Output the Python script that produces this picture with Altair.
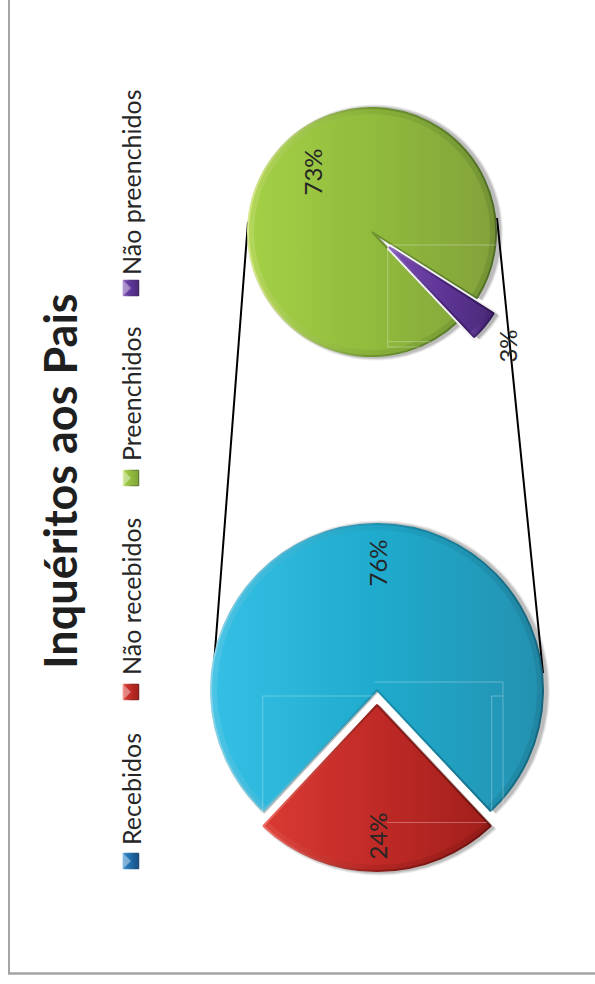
import math
import altair as alt
import pandas as pd

# Survey figures for each pie
first_labels = ["Recebidos", "Não recebidos"]
first_values = [76, 24]
second_labels = ["Preenchidos", "Não preenchidos"]
second_values = [73, 3]

TITLE = "Inquéritos aos Pais"
FONT = "Lato"
W, H = 595, 984


def gradient(*colors):
    n = len(colors) - 1
    return {
        "gradient": "linear", "x1": 0, "x2": 1, "y1": 0, "y2": 0,
        "stops": [{"offset": i / n, "color": c} for i, c in enumerate(colors)],
    }


FILLS = {
    "Recebidos": gradient("#35bfe5", "#1fabcd", "#2491b0"),
    "Não recebidos": gradient("#d93a33", "#c02a26", "#a01f1c"),
    "Preenchidos": gradient("#a4d047", "#90bb3c", "#83a23b"),
    "Não preenchidos": gradient("#7a4bb0", "#5f3597", "#4a2a78"),
}
EDGES = {
    "Recebidos": gradient("#86d3e8", "#1b8fae", "#15657c"),
    "Não recebidos": gradient("#ee6a62", "#8f1b18", "#6e1310"),
    "Preenchidos": gradient("#d8e88c", "#6f9530", "#4f6d25"),
    "Não preenchidos": gradient("#8f66c4", "#472378", "#2f1755"),
}
KEY_FILLS = {
    **FILLS,
    "Recebidos": gradient("#2f86c8", "#1f6aa8", "#164f80"),
}
KEY_EDGES = {
    **EDGES,
    "Recebidos": gradient("#4a9bd6", "#1a5c92", "#123f66"),
}


def slices(labels, values, start):
    total = sum(values)
    rows, a = [], start
    for lab, v in zip(labels, values):
        b = a + v / total * 360
        rows.append({"label": lab, "value": v, "a0": a, "a1": b, "pct": f"{v}%"})
        a = b
    return pd.DataFrame(rows)


ANGLE = alt.Scale(domain=[0, 720], range=[0, 4 * math.pi])


def wedge(row, cx, cy, r, halo=0):
    data = pd.DataFrame([row])
    enc = dict(
        theta=alt.Theta("a0:Q", scale=ANGLE),
        theta2="a1:Q",
    )
    layers = []
    # White margin separating an exploded slice from its neighbour
    if halo:
        layers.append(
            alt.Chart(data).mark_arc(
                radius=r, fill="#ffffff", stroke="#f2f2f2", strokeWidth=halo,
            ).encode(x=alt.value(cx), y=alt.value(cy), **enc)
        )
    # Soft shadow to the right
    for grow, op in [(3, 0.07), (2, 0.09), (1, 0.12)]:
        layers.append(
            alt.Chart(data).mark_arc(radius=r + grow, fill="#000", opacity=op).encode(
                x=alt.value(cx + 3), y=alt.value(cy + 0.5), **enc
            )
        )
    layers.append(
        alt.Chart(data).mark_arc(
            radius=r - 1, fill=FILLS[row["label"]], stroke=EDGES[row["label"]],
            strokeWidth=2, strokeJoin="bevel",
        ).encode(x=alt.value(cx), y=alt.value(cy), **enc)
    )
    # Rim of the bevel along the outer curve
    layers.append(
        alt.Chart(data).mark_arc(
            radius=r - 1, radius2=r - 7, fill=EDGES[row["label"]], opacity=0.28,
        ).encode(x=alt.value(cx), y=alt.value(cy), **enc)
    )
    return layers


def rule(x0, y0, x1, y1, color, width=1.0, opacity=1.0):
    return alt.Chart(pd.DataFrame({"k": [0]})).mark_rule(
        color=color, strokeWidth=width, opacity=opacity
    ).encode(x=alt.value(x0), x2=alt.value(x1), y=alt.value(y0), y2=alt.value(y1))


def label(text, x, y, size, weight="normal", color="#262626"):
    return alt.Chart(pd.DataFrame({"t": [text]})).mark_text(
        angle=270, font=FONT, fontSize=size, fontWeight=weight, color=color,
        align="center", baseline="middle",
    ).encode(text="t:N", x=alt.value(x), y=alt.value(y))


def legend_key(name, y_mid, y_text):
    data = pd.DataFrame({"name": [name]})
    return [
        alt.Chart(data).mark_point(
            shape="square", size=240, filled=True, opacity=1, fill=KEY_FILLS[name],
            stroke=KEY_EDGES[name], strokeWidth=1,
        ).encode(x=alt.value(131), y=alt.value(y_mid)),
        # Lit facet of the key's pyramid bevel
        alt.Chart(data).mark_point(
            shape="M-1,-1L0,0L-1,1Z", size=240, filled=True, opacity=0.4, fill="#ffffff",
        ).encode(x=alt.value(131), y=alt.value(y_mid)),
        alt.Chart(pd.DataFrame({"t": [name]})).mark_text(
            angle=270, font=FONT, fontSize=25, color="#262626",
            align="left", baseline="middle",
        ).encode(text="t:N", x=alt.value(133), y=alt.value(y_text)),
    ]


first = slices(first_labels, first_values, 180 + 43.2)
second = slices(second_labels, second_values, 136.6)

layers = [
    rule(9, 0, 9, 973.5, "#a5a5a8", 2),
    rule(8, 973.5, 595, 973.5, "#a5a5a8", 2.5),
    rule(248, 222, 213, 677, "#000000", 2),
    rule(497, 218, 543, 673, "#000000", 2),
]

layers += wedge(first.iloc[0].to_dict(), 377, 690, 167)
layers += wedge(first.iloc[1].to_dict(), 377, 705, 167)
layers += wedge(second.iloc[0].to_dict(), 372, 232, 125)
layers += wedge(second.iloc[1].to_dict(), 389, 247, 125, halo=6)

# Faint construction outlines lying over the pies
for seg in [
    (262.7, 696, 377, 696), (262.7, 696, 262.7, 812),
    (375, 682, 503, 682), (503, 682, 503, 822),
    (491.7, 696, 503, 696), (491.7, 696, 491.7, 812),
    (387, 822.5, 487, 822.5),
    (387.7, 245, 496, 245), (387.7, 245, 387.7, 347),
    (387.7, 341.7, 430, 341.7), (387.7, 347, 420, 347),
]:
    layers.append(rule(*seg, "#ffffff", 1, 0.3))

layers += [
    label(first.pct[0], 380, 563, 24),
    label(first.pct[1], 380, 836, 24),
    label(second.pct[0], 315, 172, 24),
    label(second.pct[1], 510, 346, 24),
    label(TITLE, 63, 481, 45, "bold", "#1f1f1f"),
]

for name, y_mid, y_text in [
    (first_labels[0], 861, 845), (first_labels[1], 692, 675),
    (second_labels[0], 478, 461), (second_labels[1], 288, 275),
]:
    layers += legend_key(name, y_mid, y_text)

chart = alt.layer(*layers).properties(
    width=W, height=H, padding=0, autosize=alt.AutoSizeParams(type="none"),
    background="#ffffff",
).configure_view(stroke=None)

chart.save("out.html", embed_options={"renderer": "svg", "actions": False})
